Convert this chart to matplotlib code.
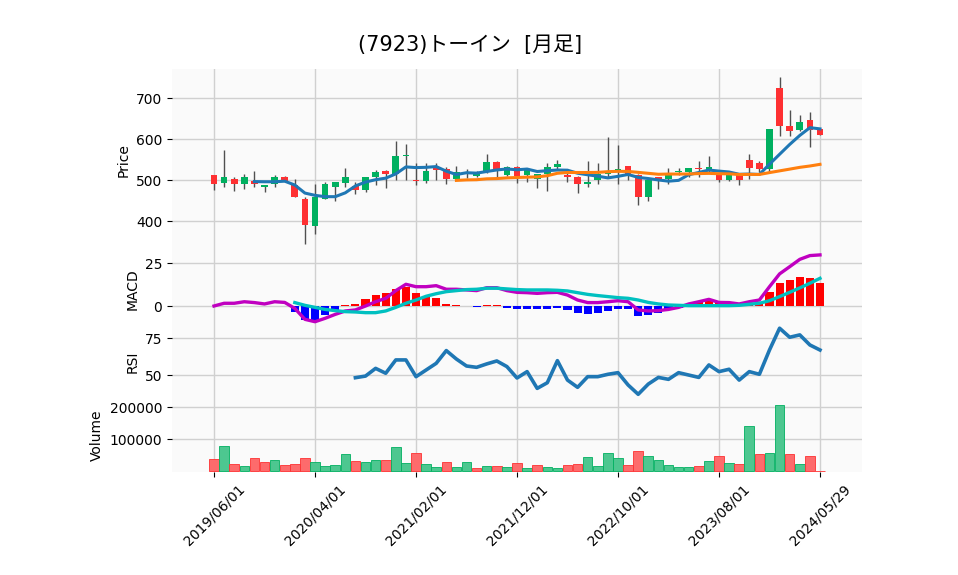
import numpy as np
import pandas as pd
import matplotlib
matplotlib.use('Agg')
import matplotlib.pyplot as plt

plt.rcParams['font.family'] = ['DejaVu Sans', 'Noto Sans CJK JP']

# monthly candles, 2019/06 .. 2024/05 plus the partial row of 2024/05/29
dates = list(pd.date_range('2019-06-01', '2024-05-01', freq='MS')) + [pd.Timestamp('2024-05-29')]

opens = [513, 494, 503, 490, 498, 484, 490, 507, 489, 454, 389, 454, 484, 494, 487, 476, 507, 523, 515, 559,
         501, 499, 532, 528, 503, 518, 510, 519, 545, 513, 532, 512, 503, 516, 532, 513, 507, 490, 501, 515,
         524, 535, 513, 460, 507, 503, 519, 521, 530, 525, 512, 501, 512, 549, 541, 527, 724, 632, 622, 647, 625]
highs = [514, 575, 507, 515, 523, 489, 513, 511, 503, 459, 490, 497, 497, 529, 497, 508, 525, 525, 597, 588,
         541, 541, 541, 533, 536, 528, 522, 563, 546, 536, 534, 529, 515, 541, 550, 517, 510, 547, 541, 606,
         586, 536, 515, 503, 509, 529, 529, 531, 548, 559, 515, 513, 513, 565, 547, 625, 753, 671, 659, 666, 625]
lows = [476, 484, 474, 479, 483, 471, 483, 497, 460, 344, 369, 454, 449, 484, 467, 471, 489, 481, 501, 501,
        489, 493, 501, 490, 501, 505, 508, 517, 502, 510, 493, 495, 482, 474, 525, 495, 468, 484, 490, 505,
        490, 501, 440, 450, 478, 491, 513, 509, 509, 518, 496, 498, 489, 504, 521, 521, 608, 608, 620, 580, 610]
closes = [490, 507, 490, 507, 490, 488, 507, 497, 460, 392, 460, 491, 497, 507, 476, 507, 520, 516, 559, 561,
          499, 523, 525, 503, 520, 521, 518, 545, 522, 532, 511, 527, 515, 532, 540, 509, 490, 496, 515, 519,
          528, 513, 460, 501, 502, 513, 523, 529, 528, 532, 500, 512, 501, 531, 527, 625, 633, 621, 641, 622, 610]
volumes = [38400, 79000, 22800, 16600, 41600, 29100, 35300, 19700, 22800, 41600, 29100, 16600, 19700, 54100,
           32200, 29100, 35300, 35300, 75900, 26000, 57200, 22800, 13400, 29100, 13400, 29100, 10300, 16600,
           16600, 13400, 25900, 10300, 19700, 13400, 10300, 19700, 22800, 44700, 16600, 57200, 41600, 19700,
           63400, 47800, 35300, 19700, 13400, 13400, 16600, 32200, 47800, 26000, 22800, 141600, 54100, 57200,
           207200, 54100, 22800, 47800, 1000]

macd = [0, 1.6, 1.6, 2.5, 2.0, 1.2, 2.5, 2.1, -1.4, -7.8, -9.2, -7.2, -4.9, -2.9, -2.3, 0, 2.5, 4.5, 9.0, 12.7,
        11.3, 11.3, 11.9, 9.8, 9.8, 9.4, 9.0, 10.7, 10.7, 9.0, 8.0, 7.8, 7.4, 7.8, 8.0, 6.4, 3.5, 2.0, 2.0, 2.5,
        3.1, 2.5, -2.3, -2.9, -2.7, -2.0, -0.8, 1.2, 2.5, 3.9, 2.1, 2.0, 1.2, 2.5, 3.5, 11.3, 18.8, 23.0, 27.3,
        29.5, 29.9]
signal = [np.nan] * 8 + [2.0, 0.4, -0.8, -2.0, -2.7, -3.3, -3.5, -3.9, -3.9, -2.9, -0.8, 1.6, 3.5, 5.7, 7.2,
          8.4, 9.0, 9.6, 9.8, 10.4, 10.4, 10.0, 9.6, 9.4, 9.4, 9.4, 9.2, 8.8, 7.8, 6.8, 6.1, 5.5, 4.9, 4.5, 3.5,
          2.1, 1.2, 0.6, 0.4, 0.2, 0.2, 0.2, 0.2, 0.2, 0.4, 1.0, 1.6, 3.1, 5.5, 8.0, 10.6, 13.3, 16.2]
rsi = [np.nan] * 14 + [48.4, 49.5, 54.7, 51.4, 60.4, 60.4, 49.1, 53.6, 58.1, 66.7, 61.0, 56.3, 55.4, 57.7, 59.7,
       55.9, 48.2, 52.5, 41.2, 45.0, 59.9, 46.8, 41.9, 49.1, 49.1, 50.7, 51.8, 43.5, 37.2, 44.1, 48.6, 47.3,
       51.8, 50.2, 48.6, 57.0, 52.5, 54.1, 46.8, 52.5, 50.7, 67.1, 81.8, 75.7, 77.3, 70.5, 67.1]

UP, DOWN = '#00b060', '#fe3032'
VUP, VDOWN = '#4dc790', '#fd6b6c'
FACE = '#fafafa'
GRID = '#d0d0d0'

df = pd.DataFrame({'Open': opens, 'High': highs, 'Low': lows, 'Close': closes, 'Volume': volumes},
                  index=dates)
x = np.arange(len(df))
ma5 = df['Close'].rolling(5).mean()
ma25 = df['Close'].rolling(25).mean()
macd = np.array(macd, dtype=float)
signal = np.array(signal, dtype=float)
hist = macd - signal

fig = plt.figure(figsize=(9.58, 5.75), dpi=100)
L, W = 172 / 958, 690 / 958


def panel(top, bottom):
    return fig.add_axes([L, (575 - bottom) / 575, W, (bottom - top) / 575])


ax1 = panel(69, 252)
ax2 = panel(252, 326)
ax3 = panel(326, 398)
ax4 = panel(398, 472)

for ax in (ax1, ax2, ax3, ax4):
    ax.set_facecolor(FACE)
    ax.grid(True, color=GRID, linewidth=1, linestyle='-')
    ax.set_axisbelow(True)
    for s in ax.spines.values():
        s.set_visible(False)
    ax.set_xlim(-4.16, 64.16)
    ax.set_xticks(x[::10])
    ax.tick_params(axis='both', labelsize=10, length=3.5)

# price
o, h, l, c = df['Open'].values, df['High'].values, df['Low'].values, df['Close'].values
cols = [UP if cc >= oo else DOWN for oo, cc in zip(o, c)]
ax1.vlines(x, l, h, color='#505050', linewidth=1, zorder=2)
ax1.bar(x, np.maximum(np.abs(c - o), 1.0), bottom=np.minimum(o, c), width=0.66, color=cols, zorder=3)
ax1.plot(x, ma5, color='#1f77b4', linewidth=2.2, zorder=4)
ax1.plot(x, ma25, color='#ff7f0e', linewidth=2.2, zorder=4)
ax1.set_ylim(325, 771.5)
ax1.set_yticks([400, 500, 600, 700])
ax1.set_ylabel('Price', fontsize=10)

# MACD
ax2.bar(x, hist, width=0.8, color=['red' if v >= 0 else 'blue' for v in np.nan_to_num(hist)], zorder=2)
ax2.plot(x, macd, color='#c000c0', linewidth=2.4, zorder=3)
ax2.plot(x, signal, color='#00c0c0', linewidth=2.4, zorder=3)
ax2.set_ylim(-11.7, 31.6)
ax2.set_yticks([0, 25])
ax2.set_ylabel('MACD', fontsize=10)

# RSI
ax3.plot(x, rsi, color='#1f77b4', linewidth=2.6)
ax3.set_ylim(34.7, 83.3)
ax3.set_yticks([50, 75])
ax3.set_ylabel('RSI', fontsize=10)

# volume, coloured by close against previous close
prev = np.r_[o[0], c[:-1]]
vcols = [VUP if cc >= pp else VDOWN for cc, pp in zip(c, prev)]
vedge = [UP if cc >= pp else DOWN for cc, pp in zip(c, prev)]
ax4.bar(x, df['Volume'].values, width=0.95, color=vcols, edgecolor=vedge, linewidth=0.6, zorder=2)
ax4.set_ylim(-2200, 229000)
ax4.set_yticks([100000, 200000])
ax4.ticklabel_format(axis='y', style='plain')
ax4.set_ylabel('Volume', fontsize=10)

for ax in (ax1, ax2, ax3):
    ax.tick_params(axis='x', labelbottom=False, length=0)
ax4.set_xticklabels([d.strftime('%Y/%m/%d') for d in df.index[::10]], rotation=45)

fig.text(470 / 958, 1 - 45 / 575, '(7923)トーイン  [月足]', ha='center', va='center', fontsize=15)

fig.savefig('out.png', dpi=100)
